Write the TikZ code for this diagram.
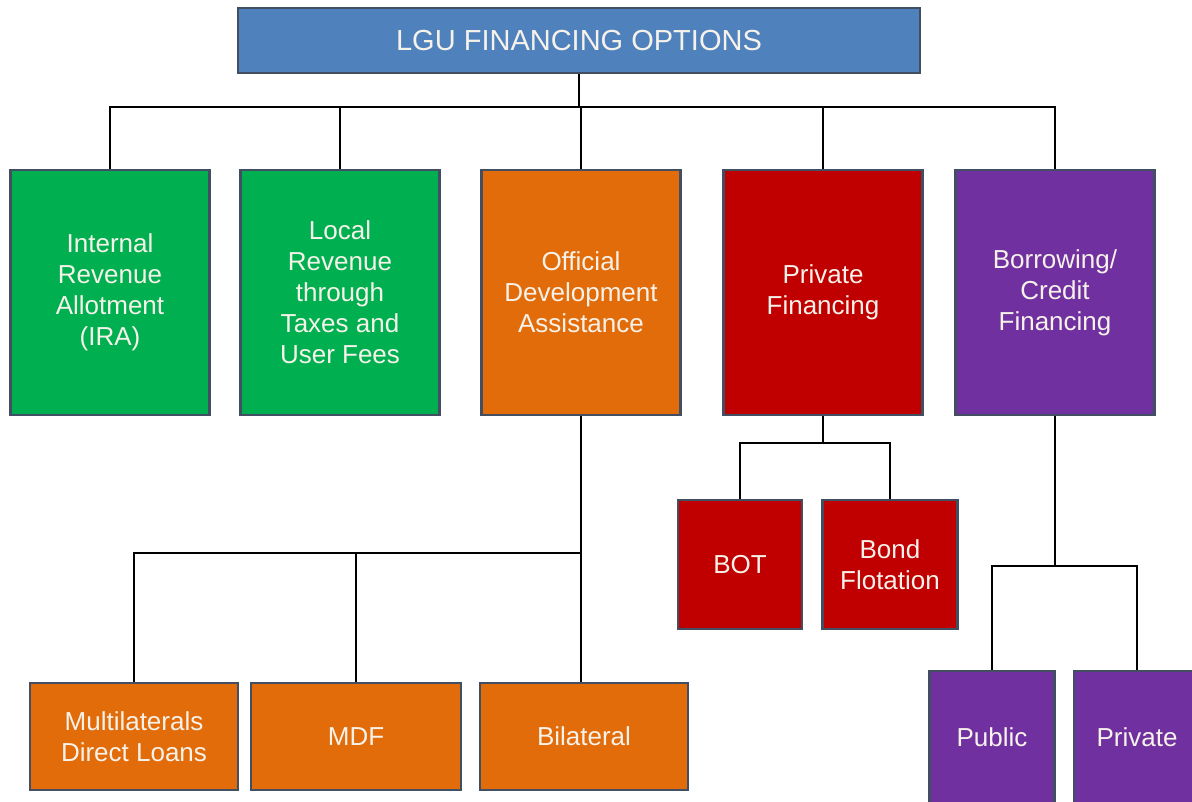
\documentclass[tikz,border=0pt]{standalone}
\usepackage{fontspec}
\setmainfont{Liberation Sans}
\usetikzlibrary{positioning, calc}

\definecolor{lguBlue}{HTML}{4F81BD}
\definecolor{lguGreen}{HTML}{00B050}
\definecolor{lguOrange}{HTML}{E36C0A}
\definecolor{lguRed}{HTML}{C00000}
\definecolor{lguPurple}{HTML}{7030A0}
\definecolor{boxedge}{RGB}{66,78,98}
\definecolor{boxtext}{RGB}{246,242,234}

\begin{document}
\begin{tikzpicture}[x=1pt, y=-1pt,
    block/.style={draw=boxedge, line width=2.4pt, inner sep=0pt, align=center,
                  text=boxtext, font=\fontsize{26}{31}\selectfont},
    option/.style={block, minimum width=199pt, minimum height=245pt},
    link/.style={line width=2.6pt}]
    \useasboundingbox[fill=white] (0,0) rectangle (1192,801);

    \node[block, fill=lguBlue, minimum width=682pt, minimum height=65pt,
          font=\fontsize{29}{34}\selectfont] (top) at (579,40.5)
      {LGU FINANCING OPTIONS};

    \node[option, fill=lguGreen] (ira) at (110,292.5)
      {Internal\\Revenue\\Allotment\\(IRA)};
    \node[option, fill=lguGreen] (lrev) at (340,292.5)
      {Local\\Revenue\\through\\Taxes and\\User Fees};
    \node[option, fill=lguOrange] (oda) at (581,292.5)
      {Official\\Development\\Assistance};
    \node[option, fill=lguRed] (priv) at (823,292.5)
      {Private\\Financing};
    \node[option, fill=lguPurple] (borrow) at (1055,292.5)
      {Borrowing/\\Credit\\Financing};

    \node[block, fill=lguRed, minimum width=124pt, minimum height=129pt]
      (bot) at (740,564.5) {BOT};
    \node[block, fill=lguRed, minimum width=135pt, minimum height=129pt]
      (bond) at (890,564.5) {Bond\\Flotation};

    \node[block, fill=lguOrange, minimum width=208pt, minimum height=107pt]
      (multi) at (134,736.5) {Multilaterals\\Direct Loans};
    \node[block, fill=lguOrange, minimum width=210pt, minimum height=107pt]
      (mdf) at (356,736.5) {MDF};
    \node[block, fill=lguOrange, minimum width=208pt, minimum height=107pt]
      (bilat) at (584,736.5) {Bilateral};

    \node[block, fill=lguPurple, minimum width=125pt, minimum height=132pt]
      (public) at (992,737) {Public};
    \node[block, fill=lguPurple, minimum width=126pt, minimum height=132pt]
      (private) at (1137,737) {Private};

    \coordinate (bus) at (579,107);
    \coordinate (privbus) at (823,443);
    \coordinate (odabus) at (581,553);
    \coordinate (borbus) at (1055,566);

    \draw[link] (top) -- (bus);
    \foreach \opt in {ira, lrev, oda, priv, borrow}
      \draw[link] (\opt.north) |- (bus);

    \draw[link] (oda.south) -- (oda.south |- bilat.north);
    \draw[link] (multi.north) |- (odabus);
    \draw[link] (mdf.north) -- (mdf.north |- odabus);

    \draw[link] (priv) -- (privbus);
    \draw[link] (bot.north) |- (privbus);
    \draw[link] (bond.north) |- (privbus);

    \draw[link] (borrow) -- (borbus);
    \draw[link] (public.north) |- (borbus);
    \draw[link] (private.north) |- (borbus);
\end{tikzpicture}
\end{document}
